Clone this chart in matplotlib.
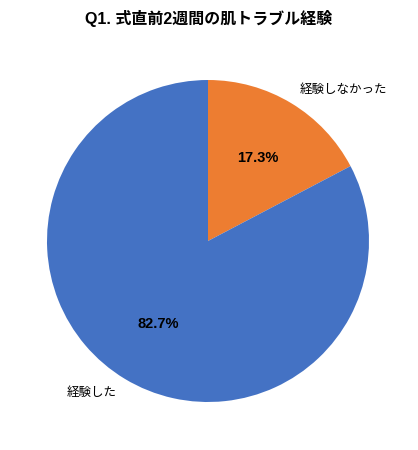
import matplotlib
matplotlib.use('Agg')
import matplotlib.pyplot as plt

plt.rcParams['font.family'] = ['Noto Sans CJK JP', 'DejaVu Sans']

# Data
labels = ['経験しなかった', '経験した']
values = [17.3, 82.7]
colors = ['#ED7D31', '#4472C4']
title = 'Q1. 式直前2週間の肌トラブル経験'

W, H = 418, 450
fig = plt.figure(figsize=(W / 100, H / 100), dpi=100)
# pie centre ~ (208, 241), radius ~ 161 px
r = 161
cx, cy = 208, 241
ax = fig.add_axes([(cx - r) / W, (H - cy - r) / H, 2 * r / W, 2 * r / H])

wedges, texts, autotexts = ax.pie(values, labels=labels, colors=colors,
                                  startangle=90, counterclock=False,
                                  autopct='%.1f%%', pctdistance=0.6,
                                  labeldistance=1.1,
                                  textprops={'fontsize': 9})
for t in autotexts:
    t.set_fontsize(10.5)
    t.set_fontweight('bold')
    t.set_color('black')
    t.set_family(['Liberation Sans', 'DejaVu Sans'])
ax.set_aspect('equal')
ax.set_xlim(-1, 1)
ax.set_ylim(-1, 1)

fig.text(0.5, 1 - 18 / H, title, ha='center', va='center',
         fontsize=11.5, fontweight='bold',
         family=['Liberation Sans', 'Noto Sans CJK JP'])

fig.savefig('out.png', dpi=100)
